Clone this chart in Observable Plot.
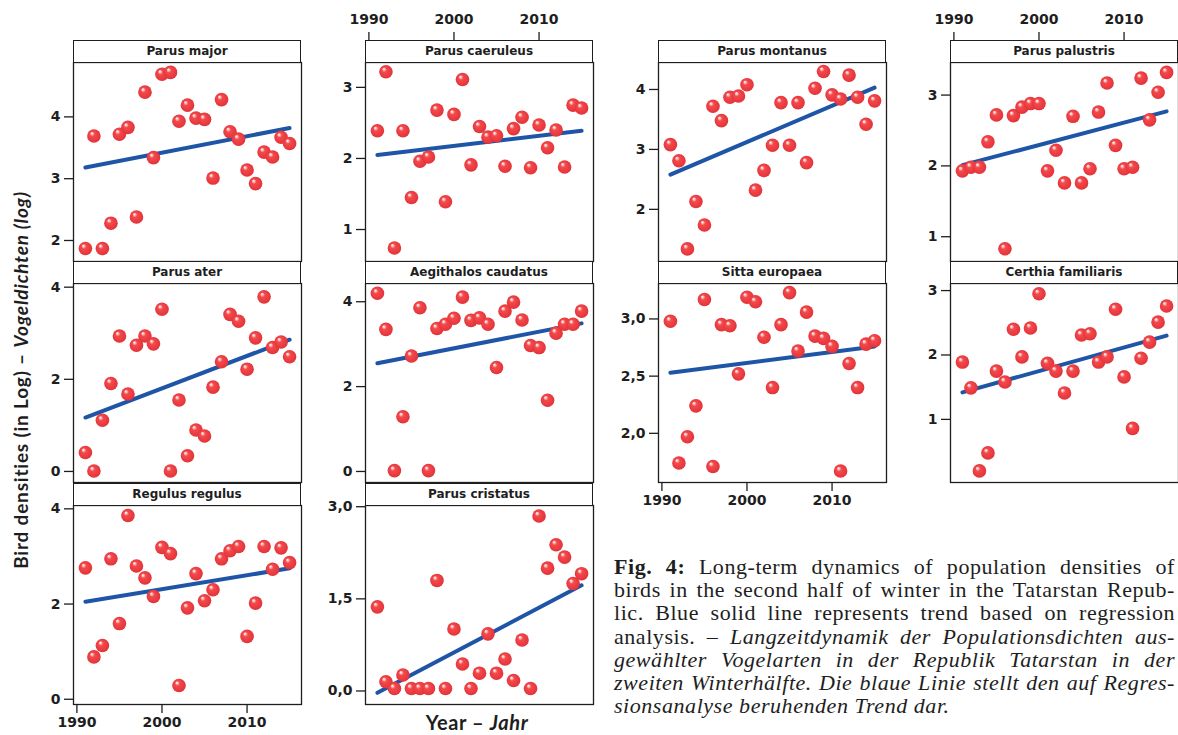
<!DOCTYPE html>
<html>
<head>
<meta charset="utf-8">
<script src="https://cdn.jsdelivr.net/npm/d3@7"></script>
<script src="https://cdn.jsdelivr.net/npm/@observablehq/plot@0.6"></script>
<style>
  html,body{margin:0;padding:0;background:#fff;}
  #fig{position:relative;width:1178px;height:735px;overflow:hidden;background:#fff;}
  .strip{position:absolute;box-sizing:border-box;border:1.3px solid #1e1e1e;background:#fff;
    font-family:"DejaVu Sans",sans-serif;font-weight:bold;font-size:12px;color:#1e1e1e;
    text-align:center;line-height:20px;}
  #ytitle{position:absolute;left:20px;top:380px;transform:translate(-50%,-50%) rotate(-90deg);white-space:nowrap;
    font-family:Lato,sans-serif;font-weight:bold;font-size:19px;letter-spacing:0.8px;color:#1e1e1e;}
  #xtitle{position:absolute;left:477px;top:722px;transform:translate(-50%,-50%);white-space:nowrap;
    font-family:Lato,sans-serif;font-weight:bold;font-size:20px;letter-spacing:0.6px;color:#1e1e1e;}
  #caption{position:absolute;left:614px;top:555px;width:561px;font-family:"Liberation Serif",serif;
    font-size:22px;letter-spacing:0.55px;line-height:23.2px;color:#1e1e1e;}
  #caption div{text-align:justify;text-align-last:justify;white-space:nowrap;}
  #caption div.last{text-align-last:left;}
</style>
</head>
<body>
<svg width="0" height="0" style="position:absolute">
  <defs>
    <radialGradient id="ball" cx="0.5" cy="0.5" r="0.55" fx="0.33" fy="0.28">
      <stop offset="0" stop-color="#ffffff"/>
      <stop offset="0.14" stop-color="#ffc0c0"/>
      <stop offset="0.32" stop-color="#f34a4d"/>
      <stop offset="0.85" stop-color="#e6363b"/>
      <stop offset="1" stop-color="#cf2a30"/>
    </radialGradient>
  </defs>
</svg>
<div id="fig">
  <div id="ytitle">Bird densities (in Log) – <i>Vogeldichten (log)</i></div>
  <div id="xtitle">Year – <i>Jahr</i></div>
  <div id="caption">
    <div><b>Fig. 4:</b> Long-term dynamics of population densities of</div>
    <div>birds in the second half of winter in the Tatarstan Repub-</div>
    <div>lic. Blue solid line represents trend based on regression</div>
    <div>analysis. – <i>Langzeitdynamik der Populationsdichten aus-</i></div>
    <div><i>gewählter Vogelarten in der Republik Tatarstan in der</i></div>
    <div><i>zweiten Winterhälfte. Die blaue Linie stellt den auf Regres-</i></div>
    <div class="last"><i>sionsanalyse beruhenden Trend dar.</i></div>
  </div>
</div>
<script>
// ---------- data ----------
const years = [1991,1992,1993,1994,1995,1996,1997,1998,1999,2000,2001,2002,2003,2004,2005,2006,2007,2008,2009,2010,2011,2012,2013,2014,2015];
const species = ["Parus major","Parus caeruleus","Parus montanus","Parus palustris","Parus ater",
  "Aegithalos caudatus","Sitta europaea","Certhia familiaris","Regulus regulus","Parus cristatus"];

const parusMajor     = [1.87,3.69,1.87,2.28,3.72,3.83,2.38,4.40,3.34,4.69,4.72,3.93,4.19,3.98,3.96,3.01,4.28,3.76,3.64,3.14,2.92,3.43,3.35,3.67,3.57];
const parusCaeruleus = [2.39,3.22,0.74,2.39,1.45,1.96,2.02,2.68,1.39,2.62,3.11,1.91,2.45,2.30,2.32,1.89,2.42,2.58,1.87,2.47,2.15,2.40,1.88,2.75,2.71];
const parusMontanus  = [3.08,2.81,1.34,2.13,1.74,3.72,3.48,3.87,3.89,4.08,2.32,2.65,3.07,3.78,3.07,3.78,2.78,4.02,4.30,3.91,3.84,4.24,3.87,3.42,3.81];
const parusPalustris = [1.93,1.98,1.98,2.34,2.72,0.83,2.71,2.83,2.88,2.88,1.93,2.22,1.76,2.70,1.76,1.96,2.76,3.17,2.29,1.96,1.98,3.24,2.65,3.04,3.32];
const parusAter      = [0.41,0.01,1.11,1.91,2.94,1.68,2.74,2.94,2.77,3.52,0.01,1.55,0.34,0.90,0.77,1.83,2.38,3.41,3.26,2.22,2.90,3.79,2.69,2.81,2.49];
const aegithalos     = [4.20,3.35,0.02,1.29,2.72,3.86,0.02,3.37,3.47,3.61,4.11,3.56,3.62,3.47,2.45,3.78,3.99,3.57,2.97,2.92,1.68,3.26,3.47,3.47,3.78];
const sittaEuropaea  = [2.98,1.74,1.97,2.24,3.17,1.71,2.95,2.94,2.52,3.19,3.15,2.84,2.40,2.95,3.23,2.72,3.06,2.85,2.83,2.76,1.67,2.61,2.40,2.78,2.81];
const certhia        = [1.89,1.49,0.20,0.48,1.75,1.58,2.40,1.97,2.42,2.95,1.87,1.75,1.41,1.75,2.31,2.33,1.89,1.97,2.71,1.66,0.86,1.95,2.20,2.51,2.76];
const regulus        = [2.76,0.89,1.13,2.95,1.59,3.86,2.80,2.55,2.16,3.19,3.06,0.29,1.92,2.64,2.07,2.30,2.95,3.12,3.21,1.32,2.02,3.21,2.73,3.18,2.87];
const parusCristatus = [1.37,0.15,0.04,0.26,0.04,0.04,0.04,1.80,0.04,1.01,0.44,0.04,0.29,0.93,0.29,0.52,0.17,0.83,0.04,2.85,2.00,2.38,2.18,1.75,1.91];

const seriesList = [parusMajor,parusCaeruleus,parusMontanus,parusPalustris,parusAter,aegithalos,sittaEuropaea,certhia,regulus,parusCristatus];

// regression trend (value at first and last year)
const trendStart = [3.18,2.05,2.58,2.01,1.17,2.55,2.53,1.42,2.05,-0.03];
const trendEnd   = [3.82,2.39,4.03,2.77,2.86,3.49,2.76,2.30,2.75,1.72];

// tick labels
const xTicks = [1990,2000,2010];
const yTicks = [[2,3,4],[1,2,3],[2,3,4],[1,2,3],[0,2,4],[0,2,4],[2.0,2.5,3.0],[1,2,3],[0,2,4],[0,1.5,3.0]];
const decimalComma = [false,false,false,false,false,false,true,false,false,true];

// ---------- layout / scales ----------
const yDomains = [[1.66,4.88],[0.55,3.35],[1.13,4.45],[0.65,3.46],[-0.24,4.08],[-0.26,4.43],[1.57,3.31],[0.02,3.11],[-0.11,4.07],[-0.22,3.02]];
const panelCol = [0,1,2,3,0,1,2,3,0,1];
const panelRow = [0,0,0,0,1,1,1,1,2,2];
const bottomAxis = [false,false,false,false,false,false,true,false,true,false];
const topAxisCols = [1,3];
const X_DOMAIN = [1989.6, 2016.4];
const colX = [73, 365, 658, 950];
const stripTop = [40, 261, 483];
const STRIP_H = 22, PW = 228, PH = 199, ML = 60, MR = 2;
const INK = "#1e1e1e";
const plotStyle = {fontFamily:"DejaVu Sans", fontSize:"14px", fontWeight:"bold", color:INK, background:"transparent", overflow:"visible"};

const fig = document.getElementById("fig");
function place(el, left, top){
  el.style.position = "absolute"; el.style.left = left + "px"; el.style.top = top + "px";
  fig.appendChild(el);
}

species.forEach((name, i) => {
  const c = panelCol[i], r = panelRow[i];
  const hasBottom = bottomAxis[i];
  const MT = 1, MB = hasBottom ? 30 : 2;
  const vals = seriesList[i];
  const data = years.map((yr, k) => ({year: yr, value: vals[k]}));
  const trend = [{year: years[0], value: trendStart[i]}, {year: years[years.length - 1], value: trendEnd[i]}];
  const fmt = decimalComma[i] ? d => d.toFixed(1).replace(".", ",") : d => String(d);
  const marks = [
    Plot.frame({stroke: INK, strokeWidth: 1.3}),
    Plot.axisY({ticks: yTicks[i], tickFormat: fmt, tickSize: 9, tickPadding: 4, label: null, stroke: INK, strokeWidth: 1.3}),
    Plot.line(trend, {x: "year", y: "value", stroke: "#1f55a6", strokeWidth: 4}),
    Plot.dot(data, {x: "year", y: "value", r: 6.8, fill: "url(#ball)"})
  ];
  if (hasBottom) marks.push(Plot.axisX({ticks: xTicks, tickFormat: d => String(d), tickSize: 9, tickPadding: 4, label: null, stroke: INK, strokeWidth: 1.3}));
  const svg = Plot.plot({
    width: PW + ML + MR, height: PH + MT + MB,
    marginLeft: ML, marginRight: MR, marginTop: MT, marginBottom: MB,
    x: {domain: X_DOMAIN, axis: null, label: null},
    y: {domain: yDomains[i], axis: null, label: null},
    style: plotStyle,
    marks
  });
  place(svg, colX[c] - ML, stripTop[r] + STRIP_H - MT);

  const strip = document.createElement("div");
  strip.className = "strip";
  strip.textContent = name;
  strip.style.width = PW + "px";
  strip.style.height = (STRIP_H + 1) + "px";
  place(strip, colX[c], stripTop[r]);
});

topAxisCols.forEach(c => {
  const ax = Plot.plot({
    width: PW + ML + MR, height: 44,
    marginLeft: ML, marginRight: MR, marginTop: 40, marginBottom: 2,
    x: {domain: X_DOMAIN, axis: null, label: null},
    style: plotStyle,
    marks: [Plot.axisX({anchor: "top", ticks: xTicks, tickFormat: d => String(d), tickSize: 9, tickPadding: 8, label: null, stroke: INK, strokeWidth: 1.3})]
  });
  place(ax, colX[c] - ML, 0);
});
</script>
</body>
</html>
